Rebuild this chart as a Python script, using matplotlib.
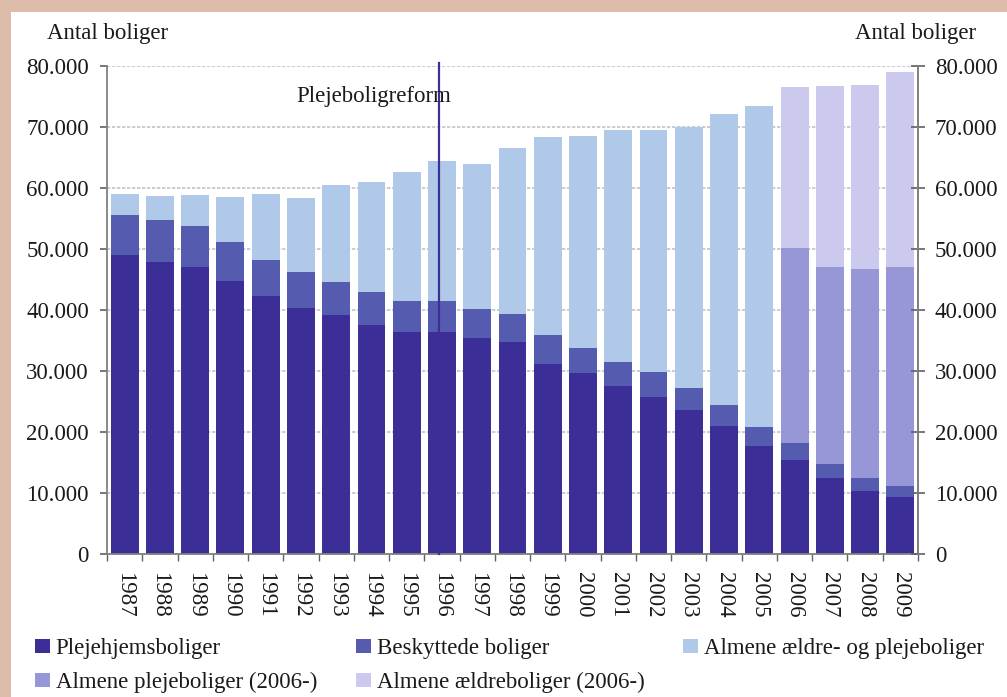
import matplotlib
matplotlib.use("Agg")
import matplotlib.pyplot as plt
from matplotlib.patches import Rectangle, Patch
from matplotlib.ticker import FuncFormatter, MultipleLocator
import numpy as np

years = [str(y) for y in range(1987, 2010)]
plejehjem = [49000, 47870, 47050, 44750, 42300, 40330, 39180, 37540, 36390, 36390, 35410, 34750,
             31150, 29670, 27540, 25740, 23610, 20980, 17700, 15410, 12460, 10330, 9340]
beskyttede = [6570, 6880, 6720, 6400, 5900, 5900, 5410, 5410, 5090, 5090, 4750, 4590,
              4750, 4100, 3940, 4100, 3600, 3450, 3120, 2790, 2290, 2130, 1810]
almene = [3430, 3950, 5080, 7370, 10800, 12130, 15910, 18050, 21140, 22950, 23770, 27220,
          32460, 34750, 38030, 39670, 42790, 47700, 52620, 0, 0, 0, 0]
almene_pleje = [0] * 19 + [31960, 32300, 34260, 35900]
almene_aeldre = [0] * 19 + [26400, 29670, 30170, 31970]

series_names = ["Plejehjemsboliger", "Beskyttede boliger", "Almene ældre- og plejeboliger",
                "Almene plejeboliger (2006-)", "Almene ældreboliger (2006-)"]
colors = ["#3b2e96", "#555cb0", "#b0c9e8", "#9796d6", "#cbcaee"]

reform_label = "Plejeboligreform"
axis_label = "Antal boliger"

plt.rcParams['font.family'] = ['Liberation Serif', 'DejaVu Serif']
FS = 16.5
TXT = "#1a1a1a"

fig = plt.figure(figsize=(10.07, 6.97), dpi=100)
fig.patch.set_facecolor("#dcbba8")
fig.patches.append(Rectangle((11 / 1007, 0), 1, 1 - 12 / 697, transform=fig.transFigure,
                             facecolor="white", edgecolor="none", zorder=-5))

ax = fig.add_axes([107 / 1007, 1 - 554 / 697, (918 - 107) / 1007, (554 - 66) / 697])
ax.set_facecolor("none")

x = np.arange(len(years))
w = 0.79
stack = [plejehjem, beskyttede, almene, almene_pleje, almene_aeldre]
bottom = np.zeros(len(years))
handles = []
for vals, c, name in zip(stack, colors, series_names):
    v = np.array(vals, dtype=float)
    ax.bar(x, v, w, bottom=bottom, color=c, edgecolor="none", zorder=2)
    bottom += v
    handles.append(Patch(facecolor=c, edgecolor="none", label=name))

ax.set_xlim(-0.5, len(years) - 0.5)
ax.set_ylim(0, 80000)
ax.yaxis.set_major_locator(MultipleLocator(10000))
fmt = FuncFormatter(lambda v, p: f"{int(v):,}".replace(",", "."))
ax.yaxis.set_major_formatter(fmt)
ax.grid(axis="y", color="#c4c4c4", linestyle=(0, (2, 1)), linewidth=1.2, zorder=1)
ax.set_axisbelow(True)

ax.set_xticks(x)
ax.set_xticklabels(years, rotation=-90, fontsize=FS, color=TXT)
ax.set_xticks(np.arange(-0.5, len(years)), minor=True)
ax.tick_params(axis="x", which="major", length=0, pad=13)
ax.tick_params(axis="x", which="minor", length=5, width=1, color="#606060")
ax.tick_params(axis="y", which="major", length=5, width=1.2, color="#606060", pad=8,
               labelsize=FS, labelcolor=TXT)

for s in ["top"]:
    ax.spines[s].set_visible(False)
for s in ["left", "right", "bottom"]:
    ax.spines[s].set_color("#808080")
    ax.spines[s].set_linewidth(1.3)

ax2 = ax.twinx()
ax2.set_ylim(0, 80000)
ax2.yaxis.set_major_locator(MultipleLocator(10000))
ax2.yaxis.set_major_formatter(fmt)
ax2.tick_params(axis="y", direction="inout", length=10, width=1.2, color="#606060", pad=7,
                labelsize=FS, labelcolor=TXT)
for s in ["top", "left", "bottom"]:
    ax2.spines[s].set_visible(False)
ax2.spines["right"].set_color("#808080")
ax2.spines["right"].set_linewidth(1.3)

# reform line
reform_x = 8.92
ax.plot([reform_x, reform_x], [0, 80500], color="#3d2f96", linewidth=1.6, zorder=3, clip_on=False)
ax.text(4.86, 75000, reform_label, fontsize=FS, color=TXT, ha="left", va="center", zorder=4)

fig.text(47 / 1007, 1 - 33 / 697, axis_label, fontsize=FS, color=TXT, ha="left", va="center")
fig.text(976 / 1007, 1 - 33 / 697, axis_label, fontsize=FS, color=TXT, ha="right", va="center")

order = [0, 3, 1, 4, 2]
leg = fig.legend([handles[i] for i in order], [series_names[i] for i in order], ncol=3,
                 loc="upper left", bbox_to_anchor=(35 / 1007, 1 - 638 / 697), frameon=False,
                 fontsize=FS, handlelength=0.65, handleheight=0.6, handletextpad=0.25,
                 columnspacing=1.7, labelspacing=0.56, borderaxespad=0, borderpad=0)
for t in leg.get_texts():
    t.set_color(TXT)

fig.savefig("out.png", dpi=100, facecolor=fig.get_facecolor())
